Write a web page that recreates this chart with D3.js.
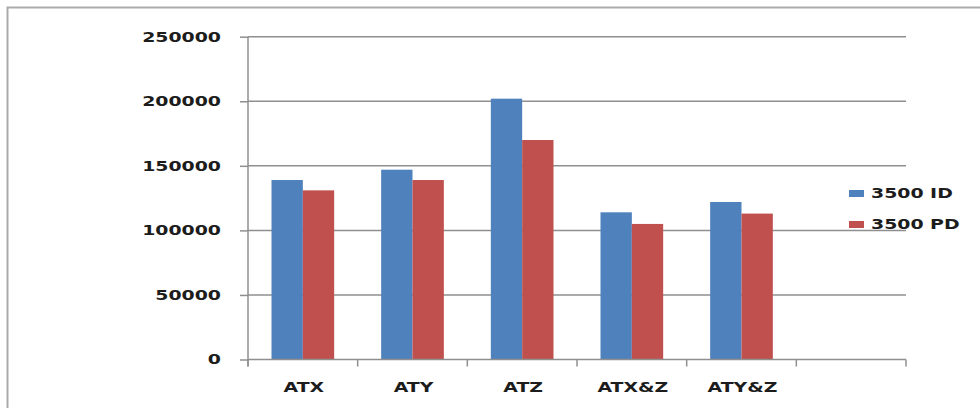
<!DOCTYPE html>
<html>
<head>
<meta charset="utf-8">
<script src="https://cdn.jsdelivr.net/npm/d3@7"></script>
<style>
  html, body { margin: 0; padding: 0; background: #fff; }
  svg { display: block; }
  .lbl { font-family: "DejaVu Sans", Verdana, sans-serif; font-weight: bold; font-size: 13.5px; fill: #1c1c1c; }
</style>
</head>
<body>
<svg id="chart" width="980" height="408"></svg>
<script>
// Categories (the last slot is an empty category on the axis)
const categories = ["ATX", "ATY", "ATZ", "ATX&Z", "ATY&Z", ""];
const seriesNames = ["3500 ID", "3500 PD"];
const id3500 = [139000, 147000, 202000, 114000, 122000, null];
const pd3500 = [131000, 139000, 170000, 105000, 113000, null];
const yTicks = [0, 50000, 100000, 150000, 200000, 250000];
const colors = ["#4F81BD", "#C0504D"];

const svg = d3.select("#chart");
const stretch = 1.4; // horizontal stretch of the text glyphs

// outer chart frame
svg.append("rect")
  .attr("x", 7.5).attr("y", 7.5)
  .attr("width", 1000).attr("height", 500)
  .attr("fill", "none").attr("stroke", "#ababab").attr("stroke-width", 2);

const plot = { left: 248, right: 906, top: 36.7, bottom: 359.5 };

const x = d3.scaleBand().domain(categories).range([plot.left, plot.right]).paddingInner(0).paddingOuter(0);
const x1 = d3.scaleBand().domain(seriesNames).range([0, x.bandwidth()]).paddingInner(0).paddingOuter(0.75);
const y = d3.scaleLinear().domain([0, 250000]).range([plot.bottom, plot.top]);

const gridColor = "#8f8f8f";

// horizontal gridlines
svg.append("g").selectAll("line").data(yTicks.filter(d => d > 0)).join("line")
  .attr("x1", plot.left).attr("x2", plot.right)
  .attr("y1", d => y(d)).attr("y2", d => y(d))
  .attr("stroke", gridColor).attr("stroke-width", 1.5);

// y axis with outward ticks
const yAxis = d3.axisLeft(y).tickValues(yTicks).tickSize(8).tickFormat("");
const gy = svg.append("g").attr("transform", `translate(${plot.left},0)`).call(yAxis);
gy.select(".domain").attr("stroke", gridColor).attr("stroke-width", 1.5).attr("d", `M0,${plot.top}V${plot.bottom + 7}`);
gy.selectAll(".tick line").attr("stroke", gridColor).attr("stroke-width", 1.5);

// y tick labels
svg.append("g").selectAll("text").data(yTicks).join("text")
  .attr("class", "lbl")
  .attr("text-anchor", "end")
  .attr("dy", "0.36em")
  .attr("transform", d => `translate(221,${y(d)}) scale(${stretch},1)`)
  .text(d => d3.format("d")(d));

// bars
const groups = svg.append("g").selectAll("g").data(categories.map((c, i) => ({ c, vals: [id3500[i], pd3500[i]] }))).join("g")
  .attr("transform", d => `translate(${x(d.c)},0)`);
groups.selectAll("rect").data(d => d.vals.map((v, j) => ({ v, s: seriesNames[j], j })).filter(e => e.v != null)).join("rect")
  .attr("x", e => x1(e.s))
  .attr("width", x1.bandwidth())
  .attr("y", e => y(e.v))
  .attr("height", e => y(0) - y(e.v))
  .attr("fill", e => colors[e.j]);

// x axis with category boundary ticks
const boundaries = categories.map(c => x(c)).concat([plot.right]);
svg.append("line")
  .attr("x1", plot.left).attr("x2", plot.right)
  .attr("y1", plot.bottom).attr("y2", plot.bottom)
  .attr("stroke", gridColor).attr("stroke-width", 1.5);
svg.append("g").selectAll("line").data(boundaries).join("line")
  .attr("x1", d => d).attr("x2", d => d)
  .attr("y1", plot.bottom).attr("y2", plot.bottom + 7)
  .attr("stroke", gridColor).attr("stroke-width", 1.5);

// category labels
svg.append("g").selectAll("text").data(categories.filter(c => c !== "")).join("text")
  .attr("class", "lbl")
  .attr("text-anchor", "middle")
  .attr("transform", c => `translate(${x(c) + x.bandwidth() / 2 + 1},391.5) scale(${stretch},1)`)
  .text(c => c);

// legend
const legend = svg.append("g").selectAll("g").data(seriesNames).join("g")
  .attr("transform", (d, i) => `translate(849,${193.5 + i * 31})`);
legend.append("rect")
  .attr("x", 0).attr("y", -3.5).attr("width", 15).attr("height", 7)
  .attr("fill", (d, i) => colors[i]);
legend.append("text")
  .attr("class", "lbl")
  .attr("dy", "0.36em")
  .attr("transform", `translate(22,0) scale(${stretch},1)`)
  .text(d => d);
</script>
</body>
</html>
